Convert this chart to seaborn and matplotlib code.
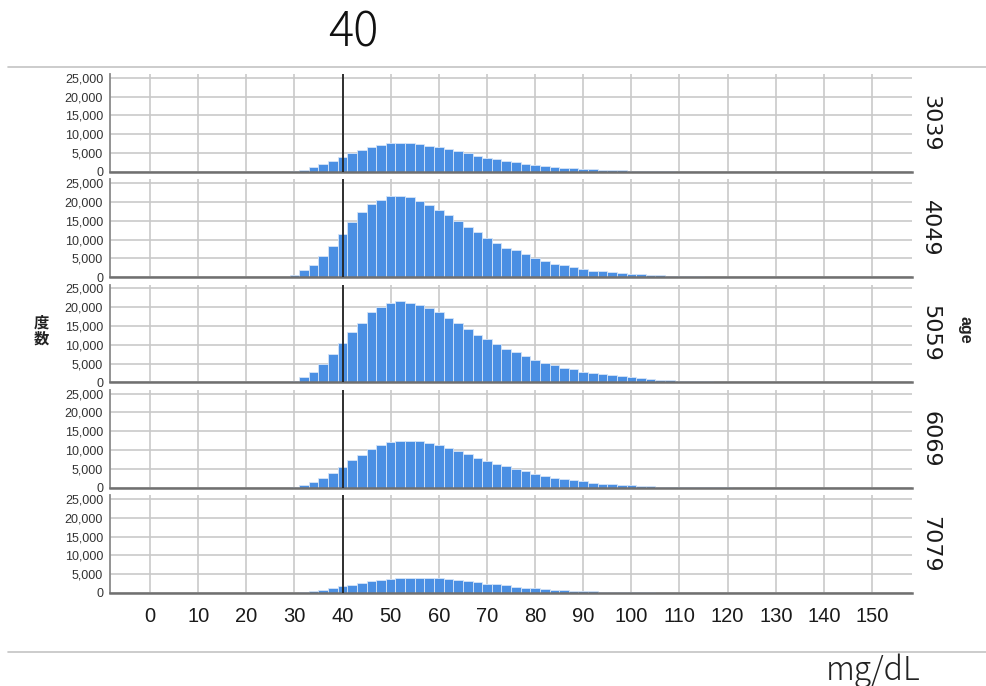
import numpy as np
import pandas as pd
import matplotlib.pyplot as plt
import seaborn as sns
from matplotlib.lines import Line2D
from matplotlib.ticker import FuncFormatter

# bin centres (mg/dL), bin width 2
bin_centers = list(range(26, 132, 2))
age_groups = ["3039", "4049", "5059", "6069", "7079"]

counts_3039 = [10, 60, 200, 600, 1300, 2000, 2800, 3900, 5000, 5900,
               6600, 7200, 7700, 7700, 7600, 7400, 7000, 6600, 6000, 5500,
               4900, 4300, 3800, 3300, 2900, 2500, 2200, 1900, 1600, 1350,
               1150, 950, 800, 650, 540, 440, 360, 290, 230, 180,
               140, 110, 85, 65, 50, 40, 30, 20, 15, 10,
               8, 5, 4]
counts_4049 = [50, 150, 600, 1800, 3300, 5500, 8200, 11500, 14600, 17300,
               19500, 20500, 21500, 21700, 21200, 20300, 19200, 17900, 16500, 14900,
               13300, 11900, 10500, 9000, 7800, 7100, 6200, 5100, 4300, 3600,
               3100, 2650, 2200, 1750, 1500, 1250, 1050, 850, 700, 560,
               450, 360, 290, 230, 180, 140, 110, 85, 65, 50,
               40, 30, 20]
counts_5059 = [30, 120, 500, 1500, 2800, 5000, 7500, 10400, 13300, 15900,
               18600, 20000, 21000, 21600, 21200, 20500, 19900, 18600, 17200, 15700,
               14300, 12700, 11500, 10100, 9000, 8100, 7000, 5950, 5200, 4500,
               3800, 3450, 2850, 2500, 2200, 1850, 1600, 1350, 1100, 900,
               750, 600, 480, 390, 310, 250, 200, 160, 125, 100,
               80, 60, 45]
counts_6069 = [10, 50, 200, 630, 1450, 2500, 4000, 5500, 7400, 8800,
               10300, 11300, 12100, 12500, 12500, 12300, 11800, 11300, 10500, 9800,
               8900, 8000, 7100, 6400, 5700, 5000, 4400, 3700, 3200, 2700,
               2300, 2000, 1650, 1350, 1100, 900, 750, 600, 480, 380,
               300, 240, 190, 150, 115, 90, 70, 55, 40, 30,
               20, 15, 10]
counts_7079 = [5, 25, 90, 270, 550, 900, 1250, 1750, 2200, 2600,
               3100, 3350, 3700, 3900, 4100, 4100, 4000, 3900, 3600, 3350,
               3100, 2800, 2500, 2300, 2000, 1700, 1450, 1250, 1050, 900,
               780, 640, 550, 460, 380, 310, 250, 200, 160, 130,
               100, 80, 60, 45, 35, 25, 20, 15, 10, 8,
               5, 4, 3]

xtick_values = [0, 10, 20, 30, 40, 50, 60, 70, 80, 90, 100, 110, 120, 130, 140, 150]
ytick_values = [0, 5000, 10000, 15000, 20000, 25000]
cutoff = 40

frames = []
for age, counts in zip(age_groups, [counts_3039, counts_4049, counts_5059, counts_6069, counts_7079]):
    frames.append(pd.DataFrame({"mgdl": bin_centers, "count": counts, "age": age}))
df = pd.concat(frames, ignore_index=True)

sns.set_theme(style="whitegrid")
plt.rcParams["font.family"] = ["Liberation Sans", "DejaVu Sans"]

fig, axes = plt.subplots(5, 1, figsize=(9.87, 6.86), dpi=100, sharex=True)
fig.subplots_adjust(left=0.1115, right=0.924, top=0.892, bottom=0.1356, hspace=0.077)

for ax, age in zip(axes, age_groups):
    sub = df[df["age"] == age]
    sns.histplot(data=sub, x="mgdl", weights="count", binwidth=2, binrange=(25, 131), ax=ax,
                 color="#4a8fe3", alpha=1, edgecolor="#d6e5f8", linewidth=0.6)
    ax.axvline(cutoff, color="#222222", lw=1.3, zorder=5)
    ax.set_xlim(-8.3, 158.3)
    ax.set_ylim(0, 26000)
    ax.set_xticks(xtick_values)
    ax.set_yticks(ytick_values)
    ax.yaxis.set_major_formatter(FuncFormatter(lambda v, p: f"{int(v):,}"))
    ax.grid(True, color="#c9c9c9", lw=1.2)
    ax.set_axisbelow(True)
    ax.set_xlabel("")
    ax.set_ylabel("")
    for s in ["top", "right"]:
        ax.spines[s].set_visible(False)
    ax.spines["left"].set_color("#8a8a8a")
    ax.spines["left"].set_linewidth(1.3)
    ax.spines["bottom"].set_color("#707070")
    ax.spines["bottom"].set_linewidth(1.8)
    ax.tick_params(axis="y", length=0, pad=5, labelsize=9, labelcolor="#333333")
    ax.tick_params(axis="x", length=0, pad=10, labelsize=14.5, labelcolor="#1a1a1a")
    ax.text(1.01, 0.5, age, transform=ax.transAxes, rotation=270, va="center", ha="left",
            fontsize=16, family="DejaVu Sans", color="#1a1a1a")

# y label (vertical characters) and facet title
fig.text(0.0415, 0.5175, "度\n数", ha="center", va="center", fontsize=11, fontweight="bold",
         family=["Noto Sans CJK JP", "DejaVu Sans"], linespacing=1.0, color="#222222")
fig.text(0.978, 0.519, "age", rotation=270, ha="center", va="center", fontsize=11.5,
         fontweight="bold", color="#222222")

# header / footer annotations
fig.text(0.3577, 0.952, "40", ha="center", va="center", fontsize=34, fontweight="light",
         family=["Noto Sans CJK JP", "DejaVu Sans"], color="#111111")
fig.text(0.8845, 0.009, "mg/dL", ha="center", va="baseline", fontsize=23, fontweight="light",
         family=["Noto Sans CJK JP", "DejaVu Sans"], color="#222222")

fig.add_artist(Line2D([0.008, 1.0], [1 - 67 / 686, 1 - 67 / 686], color="#c4c4c4", lw=1.2))
fig.add_artist(Line2D([0.008, 1.0], [1 - 652 / 686, 1 - 652 / 686], color="#c4c4c4", lw=1.2))

fig.savefig("out.png", dpi=100)
